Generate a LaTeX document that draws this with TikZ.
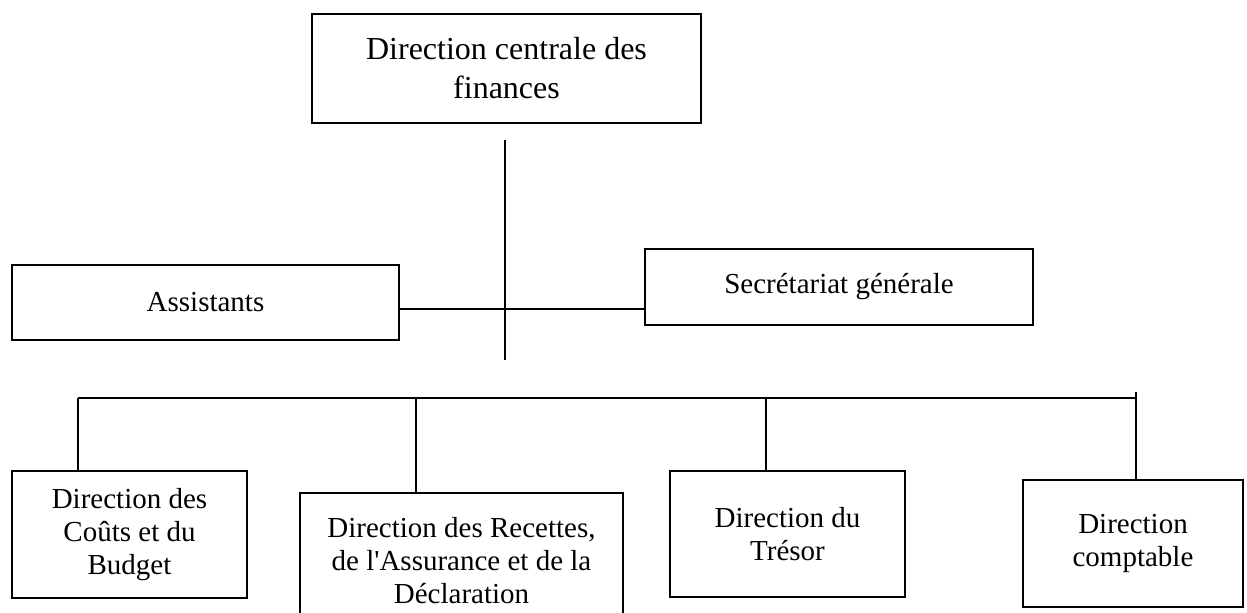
\documentclass[tikz,border=0pt]{standalone}
\usepackage{fontspec}
\setmainfont{Liberation Serif}
\begin{document}
\begin{tikzpicture}[x=0.5pt, y=-0.5pt,
    box/.style={draw, line width=1.2pt, inner sep=0pt, align=center,
        font=\fontsize{14.5}{16.5}\selectfont},
    link/.style={line width=0.6pt}]

    \useasboundingbox (0,0) rectangle (1247,612);

    % Head of the chart
    \node[box, minimum width=194.5pt, minimum height=54.5pt,
        font=\fontsize{16}{19.5}\selectfont] (dcf) at (506.5,68.5)
        {Direction centrale des\\finances};

    % Staff boxes on both sides of the trunk
    \node[box, minimum width=193.5pt, minimum height=37.5pt] (assist) at (205.5,302.5) {Assistants};
    \node[box, minimum width=194pt, minimum height=38pt] (secr) at (839,287) {Secrétariat générale};

    % Directions on the bottom row
    \node[box, minimum width=117.5pt, minimum height=63.5pt] (budget) at (129.5,534.5)
        {Direction des\\Coûts et du\\Budget};
    \node[box, minimum width=161.5pt, minimum height=67.5pt] (recettes) at (461.5,560.5)
        {Direction des Recettes,\\de l\textquotesingle Assurance et de la\\Déclaration};
    \node[box, minimum width=117.5pt, minimum height=63pt] (tresor) at (787.5,534)
        {Direction du\\Trésor};
    \node[box, minimum width=110pt, minimum height=63.5pt] (compta) at (1133,543.5)
        {Direction\\comptable};

    % Trunk and bus
    \coordinate (trunktop) at (505,140);
    \coordinate (trunkbot) at (505,360);
    \coordinate (side) at (505,309);
    \coordinate (busl) at (78,398);
    \coordinate (busr) at (1136,398);
    \coordinate (d2) at (416,398);
    \coordinate (d3) at (766,398);
    \coordinate (d4) at (1136,392);

    \draw[link] (trunktop) -- (trunkbot);
    \draw[link] (assist.east |- side) -- (secr.west |- side);
    \draw[link] (busl) -- (busr);

    % Drops to the directions
    \draw[link] (busl) -- (busl |- budget.north);
    \draw[link] (d2) -- (d2 |- recettes.north);
    \draw[link] (d3) -- (d3 |- tresor.north);
    \draw[link] (d4) -- (d4 |- compta.north);

\end{tikzpicture}
\end{document}
